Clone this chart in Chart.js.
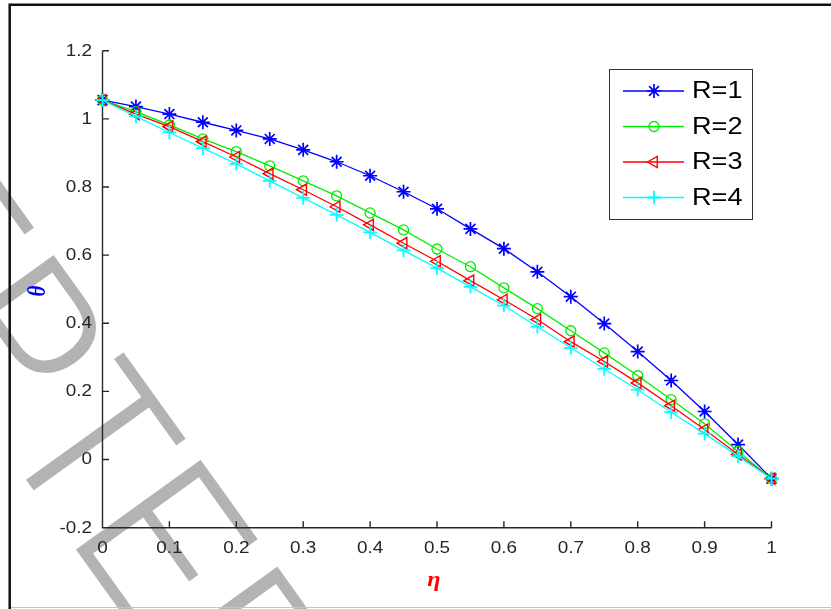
<!DOCTYPE html>
<html>
<head>
<meta charset="utf-8">
<script src="https://cdn.jsdelivr.net/npm/chart.js@4.4.0/dist/chart.umd.min.js"></script>
<style>
  html, body { margin: 0; padding: 0; background: #fff; overflow: hidden; }
  #wrap { position: relative; width: 831px; height: 609px; }
  canvas { display: block; }
</style>
</head>
<body>
<div id="wrap"><canvas id="plot" width="831" height="609"></canvas></div>
<script>
// Dimensionless coordinate eta and temperature profiles theta for each R
const etaValues = [0, 0.05, 0.1, 0.15, 0.2, 0.25, 0.3, 0.35, 0.4, 0.45, 0.5,
                   0.55, 0.6, 0.65, 0.7, 0.75, 0.8, 0.85, 0.9, 0.95, 1];

const seriesNames = ['R=1', 'R=2', 'R=3', 'R=4'];

const thetaR1 = [1.055, 1.036, 1.014, 0.990, 0.966, 0.941, 0.909, 0.874, 0.833, 0.786, 0.736,
                 0.677, 0.619, 0.551, 0.478, 0.399, 0.317, 0.232, 0.141, 0.044, -0.056];
const thetaR2 = [1.055, 1.021, 0.982, 0.941, 0.904, 0.862, 0.818, 0.774, 0.724, 0.674, 0.618,
                 0.566, 0.504, 0.443, 0.378, 0.313, 0.246, 0.176, 0.105, 0.024, -0.056];
const thetaR3 = [1.055, 1.014, 0.977, 0.933, 0.888, 0.839, 0.792, 0.742, 0.689, 0.635, 0.582,
                 0.525, 0.469, 0.411, 0.346, 0.288, 0.225, 0.158, 0.088, 0.015, -0.056];
const thetaR4 = [1.055, 1.007, 0.960, 0.914, 0.868, 0.818, 0.768, 0.718, 0.667, 0.614, 0.562,
                 0.507, 0.452, 0.390, 0.328, 0.266, 0.205, 0.139, 0.076, 0.010, -0.056];

const xTickLabels = ['0', '0.1', '0.2', '0.3', '0.4', '0.5', '0.6', '0.7', '0.8', '0.9', '1'];
const yTickLabels = ['-0.2', '0', '0.2', '0.4', '0.6', '0.8', '1', '1.2'];

const xTitle = '\u03B7';
const yTitle = '\u03B8';
const watermarkText = 'ACCEPTED MANUSCRIPT';

// Line/marker styling per series (MATLAB-like *, o, <, +)
const seriesStyles = [
  { color: '#0000ff', pointStyle: 'star',     radius: 7,   rotation: 0,   width: 1.7 },
  { color: '#00ee00', pointStyle: 'circle',   radius: 5,   rotation: 0,   width: 1.3 },
  { color: '#ff0000', pointStyle: 'triangle', radius: 6.5, rotation: -90, width: 1.4 },
  { color: '#00ffff', pointStyle: 'cross',    radius: 6.8, rotation: 0,   width: 1.8 }
];
const seriesValues = [thetaR1, thetaR2, thetaR3, thetaR4];

const TICK_FONT = '16px "Liberation Sans", Arial, Helvetica, sans-serif';
const TEXT_STRETCH = 1.18;
const AXIS_COLOR = '#262626';

const datasets = seriesNames.map((name, i) => {
  const st = seriesStyles[i];
  return {
    label: name,
    data: etaValues.map((x, j) => ({ x: x, y: seriesValues[i][j] })),
    borderColor: st.color,
    backgroundColor: 'rgba(0,0,0,0)',
    borderWidth: 1.3,
    pointStyle: st.pointStyle,
    pointRadius: st.radius,
    pointRotation: st.rotation,
    pointBorderWidth: st.width,
    pointBorderColor: st.color,
    pointBackgroundColor: 'rgba(0,0,0,0)',
    tension: 0,
    clip: false,
    order: seriesNames.length - i
  };
});

// Horizontally widened text, as the figure's lettering is
function wideText(ctx, text, x, y, align, sx) {
  ctx.save();
  ctx.translate(x, y);
  ctx.scale(sx, 1);
  ctx.textAlign = align;
  ctx.fillText(text, 0, 0);
  ctx.restore();
}

// Background, gray diagonal watermark, outer frame
const pageDecor = {
  id: 'pageDecor',
  beforeDraw(chart) {
    const ctx = chart.ctx;
    ctx.save();
    ctx.fillStyle = '#ffffff';
    ctx.fillRect(0, 0, chart.width, chart.height);

    ctx.font = '232px "Liberation Sans", Arial, sans-serif';
    ctx.textBaseline = 'alphabetic';
    ctx.textAlign = 'left';
    const pre = ctx.measureText('ACCEPT').width;
    const lsbE = -ctx.measureText('E').actualBoundingBoxLeft;
    ctx.translate(72, 549);
    ctx.rotate(54.3 * Math.PI / 180);
    ctx.scale(0.85, 1);
    ctx.fillStyle = '#b3b3b3';
    ctx.fillText(watermarkText, -(pre + lsbE), 0);
    // thin the glyph strokes to a light weight
    ctx.strokeStyle = '#ffffff';
    ctx.lineWidth = 6;
    ctx.lineJoin = 'miter';
    ctx.strokeText(watermarkText, -(pre + lsbE), 0);
    ctx.restore();
  },
  afterDraw(chart) {
    const ctx = chart.ctx;
    ctx.save();
    ctx.strokeStyle = '#111111';
    ctx.lineWidth = 2.5;
    ctx.beginPath();
    ctx.moveTo(9.7, chart.height);
    ctx.lineTo(9.7, 4.7);
    ctx.lineTo(chart.width, 4.7);
    ctx.stroke();
    ctx.strokeStyle = '#c4c4c4';
    ctx.lineWidth = 1;
    ctx.beginPath();
    ctx.moveTo(11, 607.5);
    ctx.lineTo(chart.width, 607.5);
    ctx.stroke();
    ctx.restore();
  }
};

// Axis lines with inward tick marks, tick labels, axis titles
const axesDecor = {
  id: 'axesDecor',
  beforeDatasetsDraw(chart) {
    const ctx = chart.ctx;
    const { left, right, top, bottom } = chart.chartArea;
    const xs = chart.scales.x, ys = chart.scales.y;
    ctx.save();
    ctx.strokeStyle = AXIS_COLOR;
    ctx.lineWidth = 1.4;
    ctx.beginPath();
    ctx.moveTo(left, top);
    ctx.lineTo(left, bottom);
    ctx.lineTo(right, bottom);
    ys.ticks.forEach(t => {
      const py = ys.getPixelForValue(t.value);
      ctx.moveTo(left, py);
      ctx.lineTo(left + 6.5, py);
    });
    xs.ticks.forEach(t => {
      const px = xs.getPixelForValue(t.value);
      ctx.moveTo(px, bottom);
      ctx.lineTo(px, bottom - 6.5);
    });
    ctx.stroke();

    ctx.fillStyle = AXIS_COLOR;
    ctx.font = TICK_FONT;
    ctx.textBaseline = 'middle';
    ys.ticks.forEach((t, i) => {
      wideText(ctx, yTickLabels[i], left - 10.5, ys.getPixelForValue(t.value) + 0.5, 'right', TEXT_STRETCH);
    });
    xs.ticks.forEach((t, i) => {
      wideText(ctx, xTickLabels[i], xs.getPixelForValue(t.value), bottom + 21, 'center', TEXT_STRETCH);
    });

    ctx.font = 'italic bold 21px "Liberation Serif", "Times New Roman", serif';
    ctx.textAlign = 'center';
    ctx.fillStyle = '#ff0000';
    wideText(ctx, xTitle, 434, 581, 'center', 1.15);

    ctx.fillStyle = '#0000ff';
    ctx.save();
    ctx.translate(38, 291);
    ctx.scale(1.2, 1);
    ctx.rotate(-Math.PI / 2);
    ctx.fillText(yTitle, 0, 0);
    ctx.restore();
    ctx.restore();
  }
};

// Boxed legend inside the plot, upper right
const boxLegend = {
  id: 'boxLegend',
  afterDraw(chart) {
    const ctx = chart.ctx;
    const bx = 609.5, by = 69.5, bw = 143, bh = 150;
    const rowY = [91, 126.5, 162, 197.5];
    ctx.save();
    ctx.fillStyle = '#ffffff';
    ctx.fillRect(bx, by, bw, bh);
    ctx.strokeStyle = '#333333';
    ctx.lineWidth = 1;
    ctx.strokeRect(bx, by, bw, bh);
    chart.data.datasets.forEach((ds, i) => {
      const y = rowY[i];
      ctx.strokeStyle = ds.borderColor;
      ctx.lineWidth = 1.3;
      ctx.beginPath();
      ctx.moveTo(623, y);
      ctx.lineTo(684, y);
      ctx.stroke();
      ctx.fillStyle = 'rgba(0,0,0,0)';
      ctx.lineWidth = ds.pointBorderWidth;
      Chart.helpers.drawPoint(ctx, {
        pointStyle: ds.pointStyle,
        rotation: ds.pointRotation,
        radius: ds.pointRadius,
        borderWidth: ds.pointBorderWidth
      }, 654, y);
      ctx.fillStyle = '#000000';
      ctx.font = '23px "Liberation Sans", Arial, sans-serif';
      ctx.textBaseline = 'middle';
      wideText(ctx, ds.label, 692, y + 1, 'left', TEXT_STRETCH);
    });
    ctx.restore();
  }
};

new Chart(document.getElementById('plot'), {
  type: 'line',
  data: { datasets: datasets },
  options: {
    responsive: false,
    animation: false,
    devicePixelRatio: 1,
    events: [],
    layout: { padding: { left: 20, right: 59.5, top: 50.7, bottom: 0 } },
    plugins: { legend: { display: false }, tooltip: { enabled: false } },
    scales: {
      x: {
        type: 'linear',
        min: 0, max: 1,
        afterBuildTicks: s => { s.ticks = xTickLabels.map(t => ({ value: Number(t) })); },
        afterFit: s => { s.height = 81.3; },
        grid: { display: false, drawTicks: false },
        border: { display: false },
        ticks: { display: false, autoSkip: false }
      },
      y: {
        type: 'linear',
        min: -0.2, max: 1.2,
        afterBuildTicks: s => { s.ticks = yTickLabels.map(t => ({ value: Number(t) })); },
        afterFit: s => { s.width = 82.5; },
        grid: { display: false, drawTicks: false },
        border: { display: false },
        ticks: { display: false, autoSkip: false }
      }
    }
  },
  plugins: [pageDecor, axesDecor, boxLegend]
});
</script>
</body>
</html>
